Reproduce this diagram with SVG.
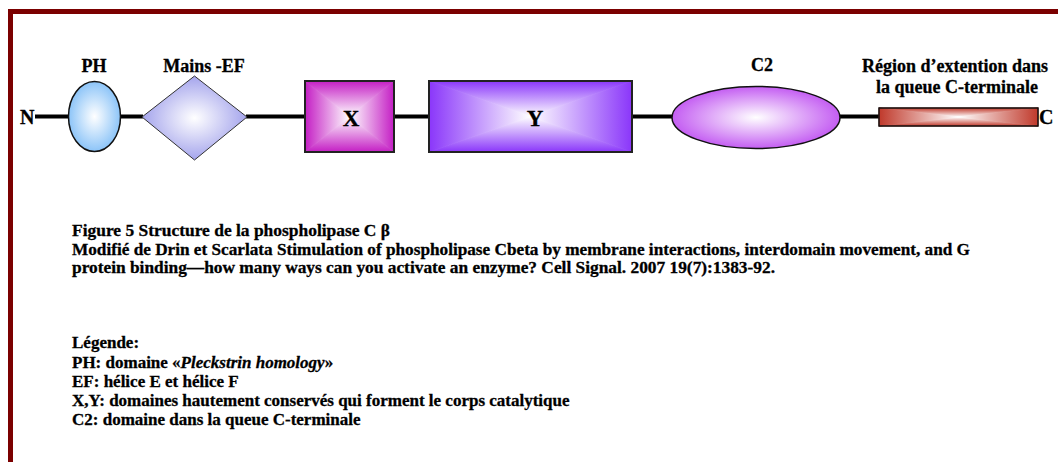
<svg xmlns="http://www.w3.org/2000/svg" width="1058" height="462" viewBox="0 0 1058 462" xml:space="preserve">
  <style>
    .t { font-family: "Liberation Serif", "Times New Roman", serif; font-weight: bold; fill: #000; stroke: #000; stroke-width: 0.3; white-space: pre; }
    .lbl { font-size: 18px; text-anchor: middle; }
    .cap { font-size: 17px; }
    .link { stroke: #000; stroke-width: 4; fill: none; }
    .edge { fill: none; stroke: #222; stroke-width: 2; }
    .seg { stroke-width: 0.8; }
  </style>
  <defs>
    <radialGradient id="gPH" cx="0.5" cy="0.5" r="0.5">
      <stop offset="0" stop-color="#ffffff"/>
      <stop offset="1" stop-color="#8cc4f8"/>
    </radialGradient>
    <radialGradient id="gEF" cx="0.5" cy="0.5" r="0.5">
      <stop offset="0" stop-color="#ffffff"/>
      <stop offset="1" stop-color="#a4a4ec"/>
    </radialGradient>
    <radialGradient id="gC2" cx="0.5" cy="0.5" r="0.5">
      <stop offset="0" stop-color="#ffffff"/>
      <stop offset="1" stop-color="#c45ef2"/>
    </radialGradient>
    <!-- rectangular centre-out shading built from four triangles -->
    <linearGradient id="xT" x1="0" y1="0" x2="0" y2="1"><stop offset="0" stop-color="#c41ec4"/><stop offset="1" stop-color="#ffffff"/></linearGradient>
    <linearGradient id="xB" x1="0" y1="1" x2="0" y2="0"><stop offset="0" stop-color="#c41ec4"/><stop offset="1" stop-color="#ffffff"/></linearGradient>
    <linearGradient id="xL" x1="0" y1="0" x2="1" y2="0"><stop offset="0" stop-color="#c41ec4"/><stop offset="1" stop-color="#ffffff"/></linearGradient>
    <linearGradient id="xR" x1="1" y1="0" x2="0" y2="0"><stop offset="0" stop-color="#c41ec4"/><stop offset="1" stop-color="#ffffff"/></linearGradient>
    <linearGradient id="yT" x1="0" y1="0" x2="0" y2="1"><stop offset="0" stop-color="#8a36fa"/><stop offset="1" stop-color="#ffffff"/></linearGradient>
    <linearGradient id="yB" x1="0" y1="1" x2="0" y2="0"><stop offset="0" stop-color="#8a36fa"/><stop offset="1" stop-color="#ffffff"/></linearGradient>
    <linearGradient id="yL" x1="0" y1="0" x2="1" y2="0"><stop offset="0" stop-color="#8a36fa"/><stop offset="1" stop-color="#ffffff"/></linearGradient>
    <linearGradient id="yR" x1="1" y1="0" x2="0" y2="0"><stop offset="0" stop-color="#8a36fa"/><stop offset="1" stop-color="#ffffff"/></linearGradient>
    <linearGradient id="rT" x1="0" y1="0" x2="0" y2="1"><stop offset="0" stop-color="#c0392b"/><stop offset="1" stop-color="#ffffff"/></linearGradient>
    <linearGradient id="rB" x1="0" y1="1" x2="0" y2="0"><stop offset="0" stop-color="#c0392b"/><stop offset="1" stop-color="#ffffff"/></linearGradient>
    <linearGradient id="rL" x1="0" y1="0" x2="1" y2="0"><stop offset="0" stop-color="#c0392b"/><stop offset="1" stop-color="#ffffff"/></linearGradient>
    <linearGradient id="rR" x1="1" y1="0" x2="0" y2="0"><stop offset="0" stop-color="#c0392b"/><stop offset="1" stop-color="#ffffff"/></linearGradient>
  </defs>

  <rect width="1058" height="462" fill="#ffffff"/>

  <!-- frame -->
  <rect x="8" y="9" width="1050" height="5" fill="#7b0000"/>
  <rect x="8" y="9" width="5" height="453" fill="#7b0000"/>

  <!-- backbone -->
  <g id="connectors">
    <line class="link" x1="35" y1="116.5" x2="69" y2="116.5"/>
    <line class="link" x1="120" y1="116.5" x2="143" y2="116.5"/>
    <line class="link" x1="246" y1="116.5" x2="306" y2="116.5"/>
    <line class="link" x1="393" y1="116.5" x2="430" y2="116.5"/>
    <line class="link" x1="631" y1="116.5" x2="673" y2="116.5"/>
    <line class="link" x1="839" y1="116.5" x2="880" y2="116.5"/>
  </g>

  <g id="n-term"><text class="t" x="20" y="124" font-size="20">N</text></g>

  <g id="ph">
    <ellipse cx="94.5" cy="116.5" rx="26" ry="35" fill="url(#gPH)" stroke="#111" stroke-width="1.5"/>
    <text class="t lbl" x="94" y="72">PH</text>
  </g>

  <g id="ef">
    <polygon points="194.5,76 247,117 194.5,160 142,117" fill="url(#gEF)" stroke="#333" stroke-width="1"/>
    <text class="t lbl" x="204" y="72">Mains -EF</text>
  </g>

  <g id="x">
    <polygon class="seg" points="305,81 394,81 349.5,116.5" fill="url(#xT)" stroke="url(#xT)"/>
    <polygon class="seg" points="305,152 394,152 349.5,116.5" fill="url(#xB)" stroke="url(#xB)"/>
    <polygon class="seg" points="305,81 305,152 349.5,116.5" fill="url(#xL)" stroke="url(#xL)"/>
    <polygon class="seg" points="394,81 394,152 349.5,116.5" fill="url(#xR)" stroke="url(#xR)"/>
    <rect class="edge" x="305" y="81" width="89" height="71"/>
    <text class="t" x="351" y="126" font-size="23" text-anchor="middle">X</text>
  </g>

  <g id="y">
    <polygon class="seg" points="429,81 632,81 530.5,116.5" fill="url(#yT)" stroke="url(#yT)"/>
    <polygon class="seg" points="429,152 632,152 530.5,116.5" fill="url(#yB)" stroke="url(#yB)"/>
    <polygon class="seg" points="429,81 429,152 530.5,116.5" fill="url(#yL)" stroke="url(#yL)"/>
    <polygon class="seg" points="632,81 632,152 530.5,116.5" fill="url(#yR)" stroke="url(#yR)"/>
    <rect class="edge" x="429" y="81" width="203" height="71"/>
    <text class="t" x="535" y="126" font-size="23" text-anchor="middle">Y</text>
  </g>

  <g id="c2">
    <ellipse cx="756" cy="117.5" rx="84" ry="31" fill="url(#gC2)" stroke="#111" stroke-width="1.5"/>
    <text class="t lbl" x="762" y="71">C2</text>
  </g>

  <g id="ext">
    <polygon class="seg" points="879,108 1038,108 958.5,117" fill="url(#rT)" stroke="url(#rT)"/>
    <polygon class="seg" points="879,126 1038,126 958.5,117" fill="url(#rB)" stroke="url(#rB)"/>
    <polygon class="seg" points="879,108 879,126 958.5,117" fill="url(#rL)" stroke="url(#rL)"/>
    <polygon class="seg" points="1038,108 1038,126 958.5,117" fill="url(#rR)" stroke="url(#rR)"/>
    <rect x="879" y="108" width="159" height="18" fill="none" stroke="#111" stroke-width="1.5"/>
    <text class="t lbl" x="955" y="72">Région d’extention dans</text>
    <text class="t lbl" x="957" y="93">la queue C-terminale</text>
  </g>

  <g id="c-term"><text class="t" x="1039" y="124" font-size="20">C</text></g>

  <!-- caption -->
  <g id="caption" class="t cap">
    <text x="72" y="236" textLength="318" lengthAdjust="spacingAndGlyphs">Figure 5  Structure de la phospholipase C β</text>
    <text x="72" y="255" textLength="898" lengthAdjust="spacingAndGlyphs">Modifié de Drin et Scarlata Stimulation of phospholipase Cbeta by membrane interactions, interdomain movement, and G</text>
    <text x="72" y="273" textLength="703" lengthAdjust="spacingAndGlyphs">protein binding—how many ways can you activate an enzyme? Cell Signal. 2007  19(7):1383-92.</text>
  </g>

  <!-- legend -->
  <g id="legend" class="t cap">
    <text x="72" y="348">Légende:</text>
    <text x="72" y="368">PH: domaine  «<tspan font-style="italic">Pleckstrin homology</tspan>»</text>
    <text x="72" y="387">EF: hélice E et hélice F</text>
    <text x="72" y="406">X,Y:  domaines hautement  conservés qui forment le corps catalytique</text>
    <text x="72" y="425">C2: domaine dans la queue C-terminale</text>
  </g>
</svg>
